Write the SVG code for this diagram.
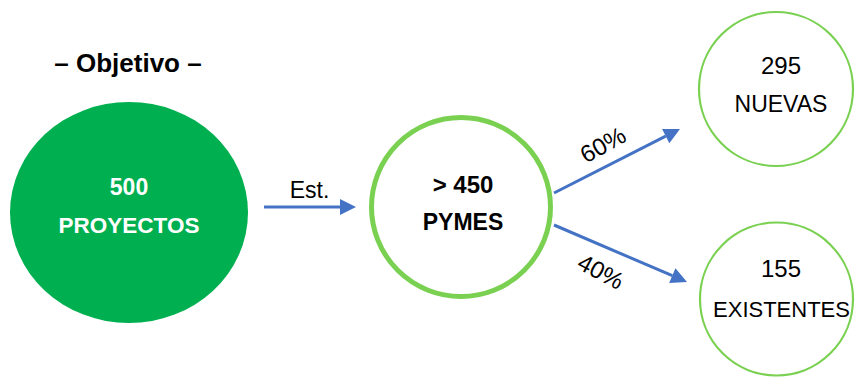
<svg xmlns="http://www.w3.org/2000/svg" width="855" height="378" viewBox="0 0 855 378">
<style>
text{font-family:"Liberation Sans",Arial,sans-serif;text-anchor:middle}
.b{font-weight:bold}
.w{fill:#ffffff}
.k{fill:#000000}
.ring{fill:#ffffff;stroke:#7AD151}
.conn{stroke:#4472C4;stroke-width:3;fill:none}
</style>
<defs>
<marker id="ah" markerUnits="userSpaceOnUse" markerWidth="16" markerHeight="16" refX="0" refY="8" orient="auto" overflow="visible">
<path d="M0,0 L16,8 L0,16 z" fill="#4472C4"/>
</marker>
</defs>
<rect width="855" height="378" fill="#ffffff"/>
<text class="b k" x="128" y="72" font-size="26">– Objetivo –</text>
<g id="proyectos">
<ellipse cx="129" cy="212.5" rx="119" ry="110.5" fill="#00B050"/>
<text class="b w" x="129" y="195" font-size="23">500</text>
<text class="b w" x="129" y="233" font-size="22.5">PROYECTOS</text>
</g>
<g id="pymes">
<circle class="ring" cx="461" cy="207" r="89.5" stroke-width="5"/>
<text class="b k" x="463" y="193" font-size="24">&gt; 450</text>
<text class="b k" x="463" y="230" font-size="23">PYMES</text>
</g>
<g id="nuevas">
<circle class="ring" cx="776" cy="89" r="77" stroke-width="2.2"/>
<text class="k" x="781" y="74" font-size="24">295</text>
<text class="k" x="781" y="112" font-size="23">NUEVAS</text>
</g>
<g id="existentes">
<circle class="ring" cx="776.5" cy="299" r="76.5" stroke-width="2.2"/>
<text class="k" x="781" y="277" font-size="24">155</text>
<text class="k" x="781.5" y="317" font-size="22">EXISTENTES</text>
</g>
<g id="connectors">
<line class="conn" x1="264" y1="207" x2="340" y2="207" marker-end="url(#ah)"/>
<text class="k" x="309.5" y="198" font-size="23">Est.</text>
<line class="conn" x1="554" y1="193" x2="665.7" y2="136.2" marker-end="url(#ah)"/>
<text class="k" x="0" y="0" font-size="24" transform="translate(607,152) rotate(-29)">60%</text>
<line class="conn" x1="554" y1="225" x2="672.3" y2="275.7" marker-end="url(#ah)"/>
<text class="k" x="0" y="0" font-size="24" transform="translate(597,279) rotate(28)">40%</text>
</g>
</svg>
